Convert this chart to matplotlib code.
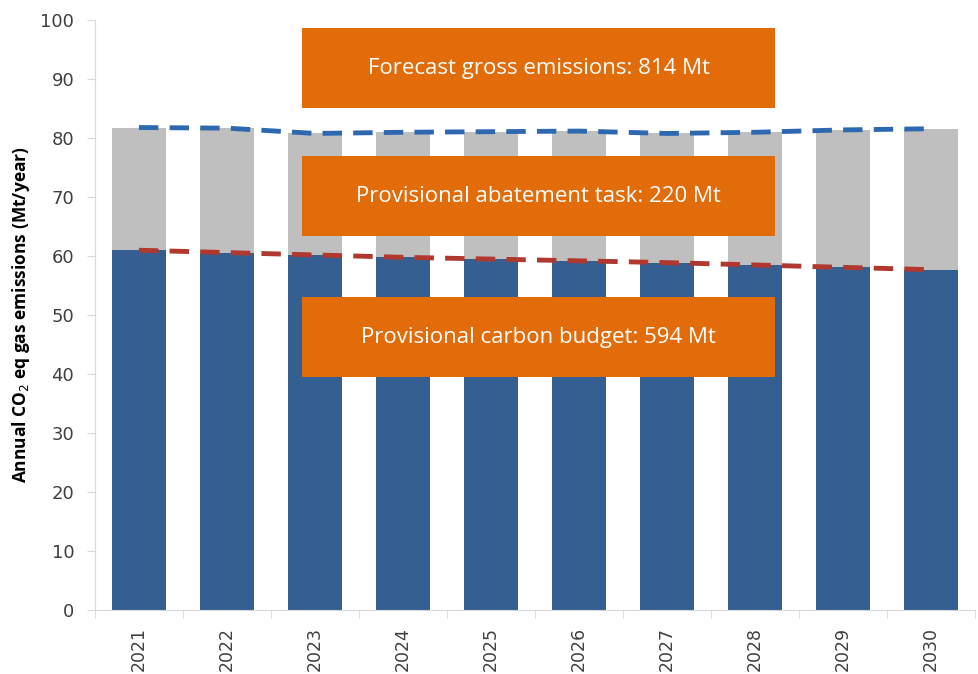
import matplotlib.pyplot as plt
from matplotlib.patches import Rectangle
import numpy as np

years = ['2021', '2022', '2023', '2024', '2025', '2026', '2027', '2028', '2029', '2030']
forecast = [81.8, 81.7, 80.8, 81.0, 81.1, 81.2, 80.8, 81.0, 81.4, 81.6]
budget = [61.0, 60.6, 60.2, 59.8, 59.5, 59.2, 58.9, 58.5, 58.1, 57.7]
boxLabels = ['Forecast gross emissions: 814 Mt',
             'Provisional abatement task: 220 Mt',
             'Provisional carbon budget: 594 Mt']
boxBottoms = [85.1, 63.4, 39.5]

plt.rcParams['font.family'] = ['Open Sans', 'DejaVu Sans']

fig = plt.figure(figsize=(9.79, 6.74), dpi=100)
ax = fig.add_axes([0.097, 0.095, 0.899, 0.875])

x = np.arange(len(years))
abatement = np.array(forecast) - np.array(budget)
ax.bar(x, budget, 0.62, color='#365f91', zorder=2)
ax.bar(x, abatement, 0.62, bottom=budget, color='#bfbfbf', zorder=2)

# trend lines
ax.plot(x, forecast, color='#2e68b0', lw=3.5, dashes=(4, 2.3), zorder=3)
ax.plot(x, budget, color='#b0382e', lw=3.5, dashes=(4, 2.3), zorder=3)

# orange boxes
for label, y0 in zip(boxLabels, boxBottoms):
    ax.add_patch(Rectangle((1.85, y0), 5.38, 13.5, facecolor='#e36c0a', edgecolor='none', zorder=4))
    ax.text(1.85 + 5.38 / 2, y0 + 6.75, label, color='white', fontsize=16,
            ha='center', va='center', zorder=5)

ax.set_xlim(-0.5, 9.5)
ax.set_ylim(0, 100)
ax.set_yticks(range(0, 101, 10))
ax.set_xticks(x)
ax.set_xticklabels(years, rotation=90, family='DejaVu Sans')
ax.set_yticklabels([str(v) for v in range(0, 101, 10)], family='DejaVu Sans')
ax.set_xticks(np.arange(-0.5, 10, 1), minor=True)
ax.tick_params(axis='x', which='major', length=0, pad=12, labelsize=12.5, labelcolor='#404040')
ax.tick_params(axis='x', which='minor', length=6, color='#d9d9d9')
ax.tick_params(axis='y', length=6, color='#d9d9d9', labelsize=13, labelcolor='#404040', pad=9)

for side in ['top', 'right']:
    ax.spines[side].set_visible(False)
for side in ['left', 'bottom']:
    ax.spines[side].set_color('#d9d9d9')

ax.set_ylabel('Annual CO$_2$ eq gas emissions (Mt/year)', fontsize=12.5, fontweight='bold', labelpad=6)

plt.savefig('out.png', dpi=100)
